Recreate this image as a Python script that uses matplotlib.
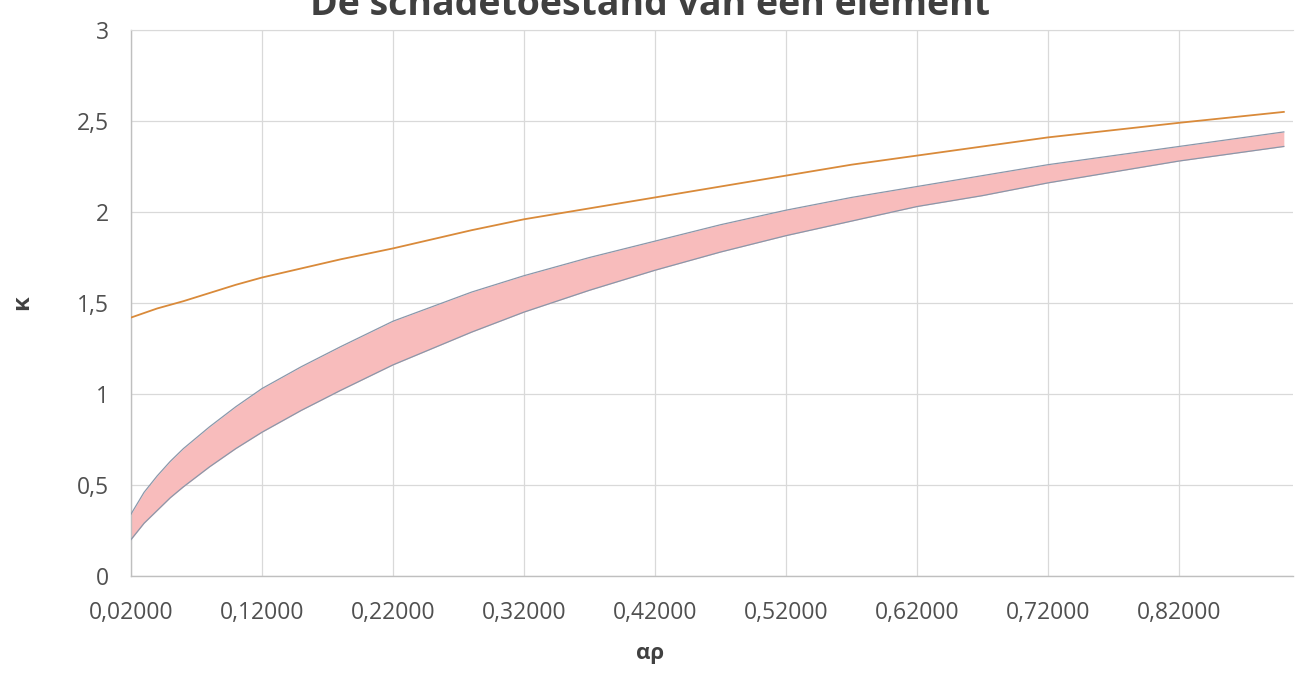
import matplotlib
matplotlib.use("Agg")
import matplotlib.pyplot as plt
import numpy as np

title = "De schadetoestand van een element"
x_label = "αρ"
y_label = "κ"

alpha_rho = [0.02, 0.03, 0.04, 0.05, 0.06, 0.08, 0.10, 0.12, 0.15, 0.18, 0.22, 0.25, 0.28,
             0.32, 0.37, 0.42, 0.47, 0.52, 0.57, 0.62, 0.67, 0.72, 0.77, 0.82, 0.86, 0.90]
kappa_top = [1.42, 1.445, 1.47, 1.49, 1.51, 1.555, 1.60, 1.64, 1.69, 1.74, 1.80, 1.85, 1.90,
             1.96, 2.02, 2.08, 2.14, 2.20, 2.26, 2.31, 2.36, 2.41, 2.45, 2.49, 2.52, 2.55]
band_upper = [0.34, 0.46, 0.55, 0.63, 0.70, 0.82, 0.93, 1.03, 1.15, 1.26, 1.40, 1.48, 1.56,
              1.65, 1.75, 1.84, 1.93, 2.01, 2.08, 2.14, 2.20, 2.26, 2.31, 2.36, 2.40, 2.44]
band_lower = [0.20, 0.29, 0.36, 0.43, 0.49, 0.60, 0.70, 0.79, 0.91, 1.02, 1.16, 1.25, 1.34,
              1.45, 1.57, 1.68, 1.78, 1.87, 1.95, 2.03, 2.09, 2.16, 2.22, 2.28, 2.32, 2.36]

x_ticks = [0.02, 0.12, 0.22, 0.32, 0.42, 0.52, 0.62, 0.72, 0.82]
x_tick_labels = ["0,02000", "0,12000", "0,22000", "0,32000", "0,42000",
                 "0,52000", "0,62000", "0,72000", "0,82000"]
y_ticks = [0, 0.5, 1, 1.5, 2, 2.5, 3]
y_tick_labels = ["0", "0,5", "1", "1,5", "2", "2,5", "3"]

plt.rcParams['font.family'] = ['Open Sans', 'DejaVu Sans']

W, H = 1297, 692
fig = plt.figure(figsize=(W / 100, H / 100), dpi=100)
ax = fig.add_axes([131 / W, 1 - 576 / H, (1293 - 131) / W, (576 - 30) / H])

ax.fill_between(alpha_rho, band_lower, band_upper, color="#f8bcbc", lw=0, zorder=2)
ax.plot(alpha_rho, band_upper, color="#8a97aa", lw=0.9, zorder=3)
ax.plot(alpha_rho, band_lower, color="#8a97aa", lw=0.9, zorder=3)
ax.plot(alpha_rho, kappa_top, color="#d98a3a", lw=1.3, zorder=3)

ax.set_xlim(0.02, 0.907)
ax.set_ylim(0, 3)
ax.set_xticks(x_ticks)
ax.set_xticklabels(x_tick_labels)
ax.set_yticks(y_ticks)
ax.set_yticklabels(y_tick_labels)
ax.tick_params(axis='both', length=0, labelsize=16.5, colors="#505050")
ax.tick_params(axis='x', pad=18)
ax.tick_params(axis='y', pad=16)
ax.grid(True, color="#d9d9d9", lw=0.9, zorder=0)
ax.spines["right"].set_visible(False)
ax.spines["top"].set_color("#d9d9d9")
ax.spines["left"].set_color("#bfbfbf")
ax.spines["bottom"].set_color("#bfbfbf")
ax.spines["left"].set_linewidth(1.0)
ax.spines["bottom"].set_linewidth(1.0)

fig.text(22 / W, 1 - 303 / H, y_label, rotation=90, ha="center", va="center",
         fontsize=17, fontweight="bold", color="#404040")
fig.text(650 / W, 1 - 653 / H, x_label, ha="center", va="center",
         fontsize=16, fontweight="bold", color="#404040")
fig.text(650 / W, 1 - 15 / H, title, ha="center", va="baseline",
         fontsize=27, fontweight="bold", color="#404040")

fig.savefig("out.png", dpi=100)
